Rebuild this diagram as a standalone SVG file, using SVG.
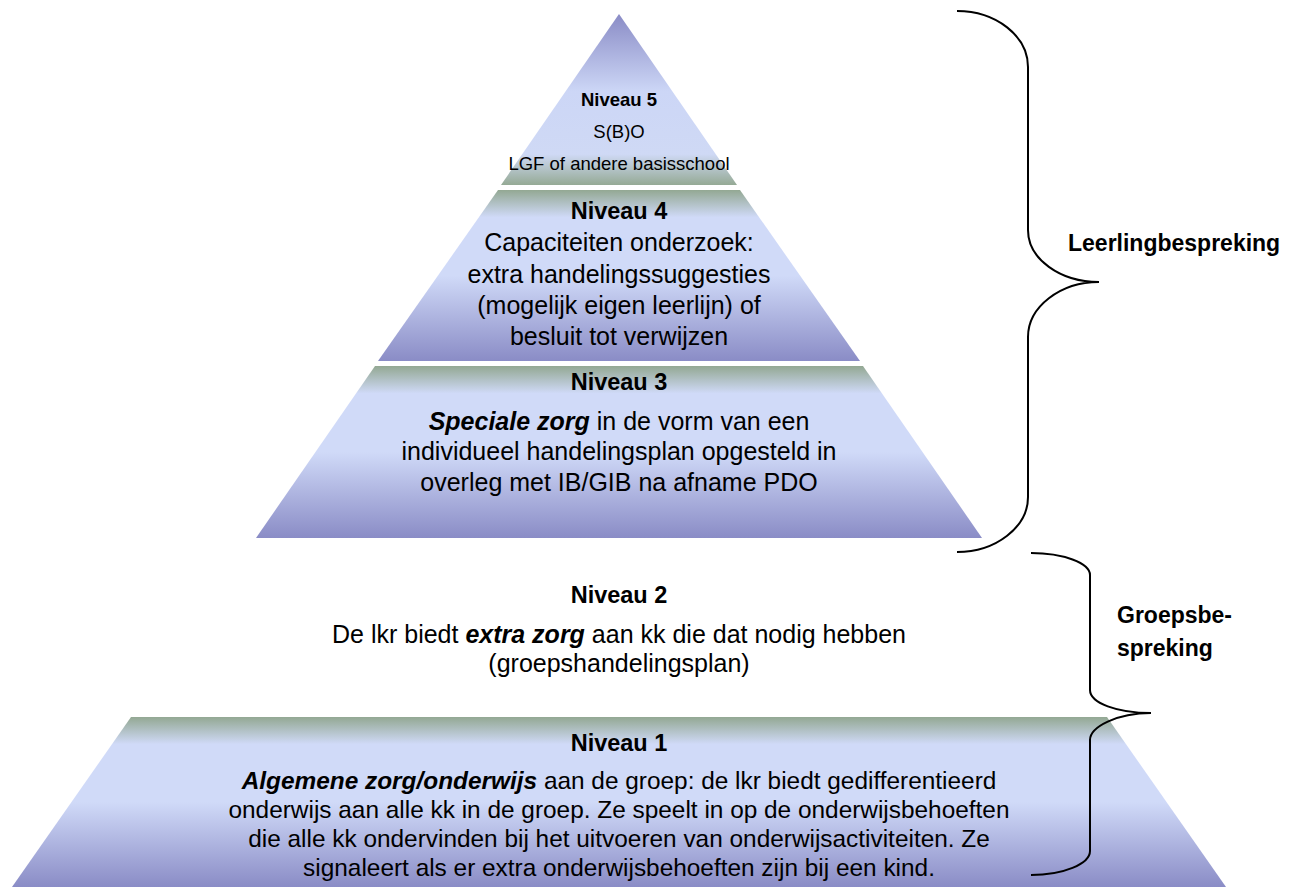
<svg xmlns="http://www.w3.org/2000/svg" width="1292" height="887" viewBox="0 0 1292 887">
  <style>
    text { font-family: "Liberation Sans", Arial, sans-serif; fill: #000; text-anchor: middle; }
    .h { font-weight: bold; font-size: 23.5px; }
    .b { font-size: 25px; }
    .b1 { font-size: 24.4px; }
    .s { font-size: 18.5px; }
    .sh { font-weight: bold; font-size: 18.5px; }
    .bi { font-weight: bold; font-style: italic; }
    .lbl { font-weight: bold; font-size: 23px; text-anchor: start; }
    .brace { fill: none; stroke: #000; stroke-width: 2; }
  </style>
  <defs>
    <linearGradient id="gBand" x1="0" y1="0" x2="0" y2="1">
      <stop offset="0" stop-color="#93a893"/>
      <stop offset="0.16" stop-color="#d0daf8"/>
      <stop offset="0.5" stop-color="#d0daf8"/>
      <stop offset="1" stop-color="#8a8cc6"/>
    </linearGradient>
    <linearGradient id="gTop" x1="0" y1="0" x2="0" y2="1">
      <stop offset="0" stop-color="#8a8cc6"/>
      <stop offset="0.45" stop-color="#ccd6f6"/>
      <stop offset="0.82" stop-color="#cfd9f5"/>
      <stop offset="1" stop-color="#95aa95"/>
    </linearGradient>
  </defs>
  <rect width="1292" height="887" fill="#fff"/>

  <g id="level5">
    <polygon points="619,14 737,185 501,185" fill="url(#gTop)"/>
    <text class="sh" x="619" y="106">Niveau 5</text>
    <text class="s" x="619" y="138">S(B)O</text>
    <text class="s" x="619" y="170">LGF of andere basisschool</text>
  </g>

  <g id="level4">
    <polygon points="498,190 740,190 860,361 378,361" fill="url(#gBand)"/>
    <text class="h" x="619" y="219">Niveau 4</text>
    <text class="b" x="619" y="251">Capaciteiten onderzoek:</text>
    <text class="b" x="619" y="283">extra handelingssuggesties</text>
    <text class="b" x="619" y="314">(mogelijk eigen leerlijn) of</text>
    <text class="b" x="619" y="345">besluit tot verwijzen</text>
  </g>

  <g id="level3">
    <polygon points="375,366 863,366 982,538 256,538" fill="url(#gBand)"/>
    <text class="h" x="619" y="390">Niveau 3</text>
    <text class="b" x="619" y="430"><tspan class="bi">Speciale zorg</tspan> in de vorm van een</text>
    <text class="b" x="619" y="460">individueel handelingsplan opgesteld in</text>
    <text class="b" x="619" y="491">overleg met IB/GIB na afname PDO</text>
  </g>

  <g id="level2">
    <text class="h" x="619" y="603">Niveau 2</text>
    <text class="b" x="619" y="643">De lkr biedt <tspan class="bi">extra zorg</tspan> aan kk die dat nodig hebben</text>
    <text class="b" x="619" y="672">(groepshandelingsplan)</text>
  </g>

  <g id="level1">
    <polygon points="131,717 1107,717 1226,887 12,887" fill="url(#gBand)"/>
    <text class="h" x="619" y="751">Niveau 1</text>
    <text class="b1" x="619" y="789"><tspan class="bi">Algemene zorg/onderwijs</tspan> aan de groep: de lkr biedt gedifferentieerd</text>
    <text class="b1" x="619" y="818">onderwijs aan alle kk in de groep. Ze speelt in op de onderwijsbehoeften</text>
    <text class="b1" x="619" y="847">die alle kk ondervinden bij het uitvoeren van onderwijsactiviteiten. Ze</text>
    <text class="b1" x="619" y="876">signaleert als er extra onderwijsbehoeften zijn bij een kind.</text>
  </g>

  <g id="connectors">
    <path id="brace-leerling" class="brace" d="M957,11 C996,11 1028,36 1028,67 L1028,230 C1028,259 1060,282 1099,282 C1060,282 1028,307 1028,337 L1028,497 C1028,527 996,552 957,552"/>
    <path id="brace-groep" class="brace" d="M1031,553 C1063,553 1090,563 1090,575 L1090,690 C1090,703 1117,713 1151,713 C1117,713 1090,727 1090,740 L1090,851 C1090,864 1063,875 1031,875"/>
  </g>

  <g id="label-leerlingbespreking">
    <text class="lbl" x="1068" y="251">Leerlingbespreking</text>
  </g>
  <g id="label-groepsbespreking">
    <text class="lbl" x="1117" y="623">Groepsbe-</text>
    <text class="lbl" x="1117" y="656">spreking</text>
  </g>
</svg>
